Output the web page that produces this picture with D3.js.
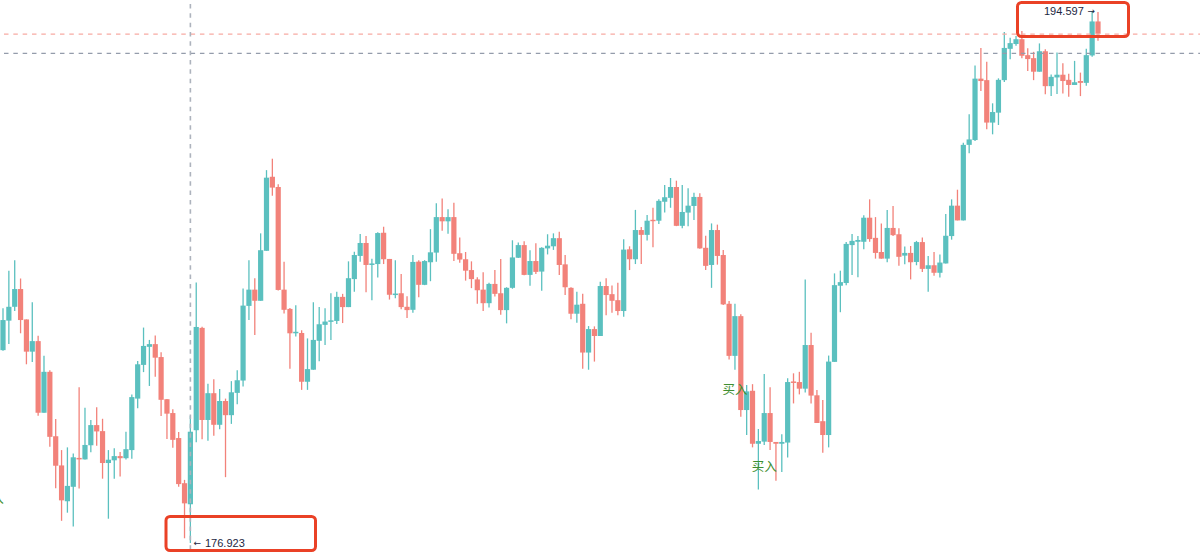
<!DOCTYPE html>
<html>
<head>
<meta charset="utf-8">
<script src="https://cdn.jsdelivr.net/npm/d3@7"></script>
<style>
html, body { margin: 0; padding: 0; background: #fff; overflow: hidden; }
svg { display: block; }
</style>
</head>
<body>
<svg id="chart" width="1200" height="554"></svg>
<script>
// candles, 10 per line
const opens = [
  183.33,184.31,184.77,185.36,184.35,183.28,183.63,181.25,182.61,180.47,
  179.50,178.31,178.79,179.75,179.70,180.17,180.84,180.64,179.58,179.67,
  179.81,179.74,180.01,181.72,182.84,183.44,183.53,183.10,181.70,181.24,
  180.41,178.91,178.21,180.67,184.07,181.01,181.90,180.85,181.64,181.17,
  181.91,182.32,184.80,185.34,184.97,186.63,189.09,188.75,185.34,184.70,
  183.89,183.90,182.28,182.68,183.64,184.17,184.27,184.30,185.10,184.76,
  185.69,186.46,186.89,186.16,186.19,187.23,186.36,185.16,185.22,184.77,
  184.67,186.27,185.50,186.25,186.57,187.75,187.61,187.75,186.55,186.35,
  185.99,185.68,185.34,184.89,185.53,185.22,184.66,185.40,186.40,186.82,
  185.83,186.29,185.94,186.71,186.78,187.05,186.18,185.40,184.54,184.87,
  183.25,184.03,183.80,185.46,185.19,184.99,184.63,186.68,186.35,187.32,
  187.16,187.66,187.63,188.26,188.39,188.75,187.46,187.90,188.12,188.42,
  186.73,186.16,187.32,186.49,184.87,183.14,184.46,181.34,181.98,180.22,
  180.29,181.24,180.28,180.22,180.26,182.29,182.27,182.05,183.50,181.83,
  180.97,180.51,182.94,185.47,185.56,186.82,186.93,186.93,187.73,187.06,
  186.59,186.37,187.39,187.18,186.47,186.56,186.26,186.92,186.03,186.15,
  185.90,186.21,187.12,188.13,187.64,190.15,190.31,192.35,192.30,190.89,
  191.22,192.30,193.34,193.50,193.66,193.13,193.03,192.58,193.26,192.10,
  192.39,192.48,192.31,192.14,192.27,192.21,193.12,194.25
];
const closes = [
  184.33,184.77,185.36,184.33,183.28,183.63,181.25,182.61,180.45,179.49,
  178.34,178.82,179.77,179.70,180.18,180.84,180.63,179.58,179.69,179.81,
  179.74,180.04,181.77,182.86,183.47,183.53,183.08,181.68,181.22,180.35,
  178.88,178.24,180.62,184.10,181.01,181.90,180.85,181.64,181.17,181.93,
  182.33,184.81,185.34,184.97,186.65,189.06,188.73,185.33,184.67,183.89,
  183.94,182.28,182.70,183.67,184.19,184.28,184.32,185.10,184.76,185.72,
  186.49,186.89,186.16,186.21,187.22,186.35,185.17,185.21,184.76,184.66,
  186.26,185.50,186.29,186.58,187.75,187.61,187.75,186.53,186.34,185.97,
  185.69,185.32,184.89,185.53,185.20,184.66,185.40,186.41,186.82,185.83,
  186.29,185.93,186.73,186.80,187.05,186.16,185.42,184.54,184.84,183.25,
  184.03,183.80,185.46,185.16,184.97,184.63,186.67,186.35,187.32,187.16,
  187.63,187.62,188.29,188.41,188.75,187.46,187.92,188.13,188.42,186.71,
  186.13,187.32,186.46,184.85,183.14,184.46,181.34,181.96,180.22,180.31,
  181.24,180.28,180.22,180.28,182.27,182.24,182.05,183.50,181.82,180.91,
  180.51,182.95,185.49,185.59,186.86,186.96,186.99,187.73,187.02,186.56,
  186.37,187.39,187.15,186.43,186.56,186.25,186.92,186.03,186.15,185.90,
  186.24,187.13,188.13,187.64,190.15,190.33,192.35,192.27,190.89,191.24,
  192.31,193.37,193.53,193.66,193.11,193.00,192.58,193.26,192.10,192.41,
  192.48,192.27,192.14,192.23,192.21,193.13,194.25,193.84
];
const highs = [
  184.72,185.97,186.32,185.71,184.35,184.92,183.81,183.14,182.66,181.04,
  180.01,180.10,179.90,182.10,181.42,181.01,181.43,181.05,180.01,180.07,
  179.95,180.62,181.86,182.97,184.08,183.67,183.82,183.26,181.71,181.37,
  180.61,179.02,181.15,185.58,184.11,182.21,182.36,182.04,181.72,182.30,
  182.66,185.38,186.32,185.72,187.21,189.31,189.69,188.84,186.27,184.73,
  184.82,183.99,183.72,184.92,184.76,184.72,185.22,185.27,185.20,186.28,
  186.60,187.19,187.12,186.37,187.25,187.43,186.36,186.32,185.86,185.12,
  186.49,186.32,186.32,187.35,188.21,188.37,188.01,188.23,187.07,186.59,
  186.28,185.75,185.92,185.57,185.99,186.36,185.42,186.98,186.91,186.95,
  186.65,186.88,186.75,187.18,187.21,187.26,186.49,185.42,185.27,185.20,
  184.13,184.12,185.60,185.72,185.48,185.57,187.01,186.78,187.99,187.42,
  187.82,188.06,188.34,188.82,189.05,188.96,188.82,188.71,188.56,188.54,
  187.13,187.54,187.50,186.66,184.96,184.87,184.52,182.17,182.20,180.71,
  182.54,182.10,180.28,180.54,182.40,182.56,182.61,185.68,183.91,182.01,
  181.67,183.15,185.88,185.97,186.92,187.19,187.12,187.81,188.34,187.75,
  187.54,187.99,188.12,187.38,186.77,186.79,186.96,187.07,186.46,186.59,
  186.51,187.85,188.34,188.66,190.22,191.17,192.79,193.37,192.91,191.53,
  192.36,193.90,193.71,193.77,193.93,193.36,193.24,193.52,193.33,192.49,
  193.22,192.86,192.51,192.94,192.55,193.34,194.597,194.56
];
const lows = [
  183.31,183.53,184.63,183.89,182.86,182.94,181.15,181.25,180.12,178.74,
  177.66,177.93,177.47,178.73,179.70,179.94,180.15,179.06,177.73,179.06,
  179.13,179.70,179.72,181.40,182.60,182.14,182.45,181.14,180.38,180.09,
  178.79,177.08,176.923,180.27,180.37,180.32,180.49,180.70,179.11,180.88,
  181.53,182.12,184.33,183.83,184.97,186.63,188.46,185.31,184.55,182.71,
  183.78,182.01,182.01,182.68,182.96,183.50,183.67,184.20,184.23,184.76,
  185.27,186.27,185.25,184.99,185.74,186.19,185.01,185.05,184.69,184.40,
  184.57,185.09,185.49,185.62,186.27,187.30,187.20,186.29,186.23,185.64,
  185.39,184.87,184.63,184.75,185.11,184.51,184.22,185.37,186.39,185.82,
  185.47,185.86,185.30,186.51,186.66,185.83,185.16,184.36,184.24,182.71,
  182.68,182.95,183.80,184.49,184.57,184.49,184.44,185.99,186.19,186.19,
  186.97,186.75,187.52,187.90,188.06,187.45,187.38,187.45,187.65,186.70,
  185.99,185.40,186.17,184.83,183.02,182.68,181.12,180.51,180.10,178.70,
  180.18,180.01,178.99,179.28,179.76,181.56,181.86,181.92,181.56,180.91,
  179.92,180.10,182.94,184.59,185.49,185.83,185.75,186.68,186.93,186.37,
  186.37,186.25,187.12,186.13,186.18,185.68,186.15,185.93,185.27,185.80,
  185.74,186.21,187.00,187.64,187.64,189.87,190.28,191.94,190.67,190.50,
  190.81,192.24,192.99,193.44,193.03,192.60,192.30,192.58,191.83,191.77,
  191.84,191.86,191.75,192.14,191.77,192.11,193.08,193.61
];

// price lines and the crosshair candle
const askPrice = 193.83;
const bidPrice = 193.19;
const crossIndex = 32;
const highText = "194.597";
const lowText = "176.923";
const buyIndex = [-2, 125, 130];
const buyPrice = [178.42, 182.04, 179.51];

const upColor = "#5bc0bf";
const downColor = "#f2827a";
const labelFont = "11px 'Liberation Sans', Arial, sans-serif";
const arrowFont = "9px 'DejaVu Sans', sans-serif";
const dash = "4.5 4.83";

const width = 1200, height = 554;
const svg = d3.select("#chart");

const x = d3.scaleLinear().domain([0, opens.length - 1]).range([3, 1098]);
const y = d3.scaleLinear().domain([176.923, 194.597]).range([543, 11]);

const candles = opens.map((o, i) => ({
  i, o, c: closes[i], h: highs[i], l: lows[i], up: closes[i] > o
}));

// wicks
svg.append("g").selectAll("line").data(candles).enter().append("line")
  .attr("x1", d => x(d.i)).attr("x2", d => x(d.i))
  .attr("y1", d => y(d.h)).attr("y2", d => y(d.l))
  .attr("stroke", d => d.up ? upColor : downColor)
  .attr("stroke-width", 1.3);

// bodies
svg.append("g").selectAll("rect").data(candles).enter().append("rect")
  .attr("x", d => x(d.i) - 2.6)
  .attr("width", 5.2)
  .attr("y", d => y(Math.max(d.o, d.c)))
  .attr("height", d => Math.max(1.4, Math.abs(y(d.o) - y(d.c))))
  .attr("fill", d => d.up ? upColor : downColor);

// dashed price lines
svg.append("line").attr("x1", 0).attr("x2", width)
  .attr("y1", y(askPrice)).attr("y2", y(askPrice))
  .attr("stroke", "#f7aaa3").attr("stroke-width", 1.4)
  .attr("stroke-dasharray", dash).attr("stroke-dashoffset", 5.33);
svg.append("line").attr("x1", 0).attr("x2", width)
  .attr("y1", y(bidPrice)).attr("y2", y(bidPrice))
  .attr("stroke", "#949cab").attr("stroke-width", 1.4)
  .attr("stroke-dasharray", dash).attr("stroke-dashoffset", 5.33);

// crosshair
svg.append("line").attr("x1", x(crossIndex)).attr("x2", x(crossIndex))
  .attr("y1", 0).attr("y2", height)
  .attr("stroke", "#adb3bd").attr("stroke-width", 1.6)
  .attr("stroke-dasharray", dash).attr("stroke-dashoffset", 5.33);

// high / low labels, arrow drawn apart from the number
const labels = svg.append("g").attr("fill", "#1c2742")
  .attr("dominant-baseline", "central");
labels.append("text").attr("x", 1044).attr("y", y(194.597)).style("font", labelFont).text(highText);
labels.append("text").attr("x", 1087.5).attr("y", y(194.597)).style("font", arrowFont).text("→");
labels.append("text").attr("x", 205).attr("y", y(176.923)).style("font", labelFont).text(lowText);
labels.append("text").attr("x", 193.5).attr("y", y(176.923)).style("font", arrowFont).text("←");

// buy markers
svg.append("g").selectAll("text").data(buyIndex).enter().append("text")
  .attr("x", d => x(d))
  .attr("y", (d, i) => y(buyPrice[i]))
  .attr("text-anchor", "middle").attr("dominant-baseline", "central")
  .style("font", "12.5px 'Noto Sans CJK SC', sans-serif").attr("fill", "#3f8f32")
  .text("买入");

// red highlight boxes
const boxes = svg.append("g").attr("fill", "none").attr("stroke", "#ea4126").attr("stroke-width", 3);
boxes.append("rect").attr("x", 1017.5).attr("y", 2.5).attr("width", 111).attr("height", 34).attr("rx", 4);
boxes.append("rect").attr("x", 166).attr("y", 516.5).attr("width", 149.5).attr("height", 34).attr("rx", 4);
</script>
</body>
</html>
